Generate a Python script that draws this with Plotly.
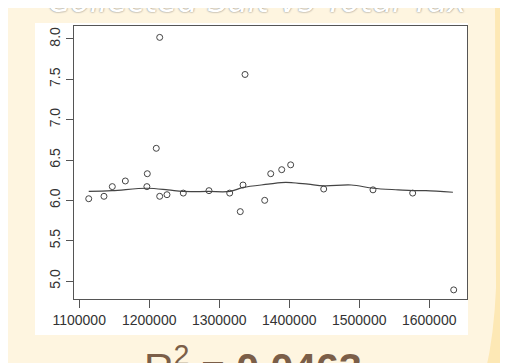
import plotly.graph_objects as go

# ---- data ----
total_tax = [1113600, 1135400, 1147300, 1165900, 1197300, 1196700, 1215000, 1225400,
             1248700, 1285400, 1315000, 1334000, 1330100, 1365000, 1373600, 1389300,
             1402100, 1449300, 1519700, 1576400, 1635000, 1215000, 1336900, 1210100]
collected_salt = [6.02, 6.05, 6.17, 6.24, 6.33, 6.17, 6.05, 6.07,
                  6.09, 6.12, 6.09, 6.19, 5.86, 6.00, 6.33, 6.38,
                  6.44, 6.14, 6.13, 6.09, 4.89, 8.02, 7.56, 6.645]

smooth_x = [1113600, 1146900, 1196900, 1226900, 1248300, 1284000, 1315400, 1334300,
            1370000, 1388600, 1402900, 1427100, 1450000, 1488600, 1520000, 1555700,
            1576700, 1595300, 1633900]
smooth_y = [6.11, 6.12, 6.15, 6.13, 6.11, 6.11, 6.11, 6.16,
            6.20, 6.22, 6.22, 6.20, 6.18, 6.19, 6.15, 6.13,
            6.12, 6.12, 6.10]

x_ticks = [1100000, 1200000, 1300000, 1400000, 1500000, 1600000]
x_ticktext = ["1100000", "1200000", "1300000", "1400000", "1500000", "1600000"]
y_ticks = [5.0, 5.5, 6.0, 6.5, 7.0, 7.5, 8.0]
y_ticktext = ["5.0", "5.5", "6.0", "6.5", "7.0", "7.5", "8.0"]

title_text = "Collected Salt vs Total Tax"
r2_text = "R<sup>2</sup> = <b>0.0463</b>"

# ---- layout geometry (pixels) ----
W, H = 508, 363
L, R, T, B = 66, 459, 18, 291


def px(xp):
    return (xp - L) / (R - L)


def py(yp):
    return (B - yp) / (B - T)


fig = go.Figure()
fig.add_trace(go.Scatter(x=smooth_x, y=smooth_y, mode="lines",
                         line=dict(color="#444444", width=1.2, shape="spline"),
                         hoverinfo="skip", showlegend=False))
fig.add_trace(go.Scatter(x=total_tax, y=collected_salt, mode="markers",
                         marker=dict(symbol="circle-open", size=6,
                                     color="#444444", line=dict(width=1)),
                         showlegend=False))

strip = (f"M {px(487)},{py(-5)} L {px(515)},{py(-5)} L {px(515)},{py(370)} "
         f"L {px(476)},{py(370)} Q {px(486)},{py(330)} {px(488)},{py(280)} Z")

fig.update_layout(
    width=W, height=H,
    margin=dict(l=L, r=W - R, t=T, b=H - B),
    paper_bgcolor="#FEF5E0",
    plot_bgcolor="white",
    showlegend=False,
    shapes=[
        dict(type="path", path=strip, xref="paper", yref="paper",
             fillcolor="#FDE8B5", line=dict(width=0), layer="below"),
        dict(type="rect", xref="paper", yref="paper",
             x0=px(27), x1=px(460), y0=py(327), y1=py(15),
             fillcolor="white", line=dict(width=0), layer="below"),
    ],
    annotations=[
        dict(text=title_text, xref="paper", yref="paper",
             x=px(249), y=py(-7), xanchor="center", yanchor="middle",
             showarrow=False,
             font=dict(family="DejaVu Sans", size=32, color="#FFFFFF",
                       style="italic", shadow="0px 0px 2px #666666")),
        dict(text=r2_text, xref="paper", yref="paper",
             x=px(245), y=py(357), xanchor="center", yanchor="middle",
             showarrow=False,
             font=dict(family="Liberation Sans", size=41, color="#7B5E48")),
    ],
    font=dict(family="Liberation Sans, Arial", color="#333333"),
)

fig.update_xaxes(range=[1092571, 1654000], tickmode="array",
                 tickvals=x_ticks, ticktext=x_ticktext,
                 ticks="outside", ticklen=8, tickcolor="#555555", tickwidth=1,
                 showline=True, mirror=True, linecolor="#555555", linewidth=1,
                 showgrid=False, zeroline=False,
                 tickfont=dict(size=14, color="#333333"))
fig.update_yaxes(range=[4.777, 8.161], tickmode="array",
                 tickvals=y_ticks, ticktext=y_ticktext, tickangle=-90,
                 ticks="outside", ticklen=7, tickcolor="#555555", tickwidth=1,
                 showline=True, mirror=True, linecolor="#555555", linewidth=1,
                 showgrid=False, zeroline=False,
                 tickfont=dict(size=14, color="#333333"))

fig.write_html("out.html")
